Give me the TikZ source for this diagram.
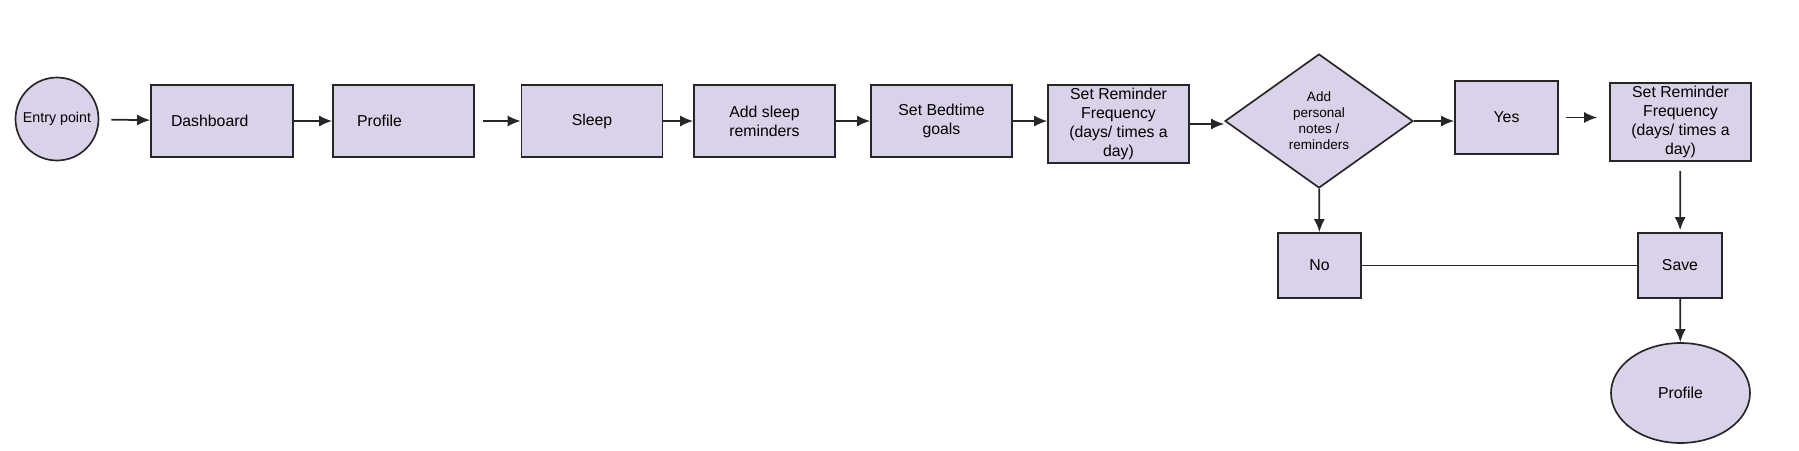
\documentclass[tikz,border=0pt]{standalone}
\usepackage{fontspec}
\setmainfont{Liberation Sans}
\usepackage{xcolor}
\usepackage{tikz}
\usetikzlibrary{arrows.meta}
\usetikzlibrary{shapes}
\usetikzlibrary{shapes.geometric}
\definecolor{lilac}{HTML}{D9D2E9}
\definecolor{edge}{HTML}{262626}

\begin{document}
\begin{tikzpicture}[x=0.02cm, y=-0.02cm, line width=1pt,
  shp/.style={draw=edge, fill=lilac, line width=0.95pt, font=\fontsize{9}{10.8}\selectfont},
  box/.style={shp, rectangle, minimum width=2.82cm, minimum height=1.44cm, align=center, inner sep=0pt},
  decision/.style={shp, diamond, minimum width=3.76cm, minimum height=2.68cm, inner sep=0pt, align=center, font=\fontsize{7.7}{9.1}\selectfont},
  terminal/.style={shp, ellipse, inner sep=0pt},
  flow/.style={-{Latex[length=0.26cm, width=0.22cm]}, draw=edge}]
 \useasboundingbox (0,0) rectangle (1799,450);
 \node [shp, circle, inner sep=0pt, minimum size=1.66cm, font=\fontsize{8.1}{9.7}\selectfont] (E) at (57, 119) {Entry point};
 \node [box, text width=2.04cm, inner xsep=0.4cm, align=left] (D) at (222, 121) {Dashboard};
 \node [box, text width=1.86cm, inner xsep=0.48cm, align=left] (P) at (403.5, 121) {Profile\\[2pt]};
 \node [box] (S) at (592, 121) {Sleep};
 \node [box] (A) at (764.5, 121) {Add sleep\\reminders};
 \node [box] (B) at (941.5, 121) {Set Bedtime\\goals};
 \node [box, minimum height=1.56cm] (R) at (1118.5, 124) {Set Reminder\\Frequency\\(days/ times a\\day)};
 \node [decision] (Q) at (1319, 121) {Add\\personal\\notes /\\reminders};
 \node [box, minimum width=2.06cm, minimum height=1.46cm] (Y) at (1506.5, 117.5) {Yes};
 \node [box, minimum height=1.56cm] (F) at (1680.5, 122) {Set Reminder\\Frequency\\(days/ times a\\day)};
 \node [box, minimum width=1.66cm, minimum height=1.3cm] (N) at (1319.5, 265.5) {No};
 \node [box, minimum width=1.68cm, minimum height=1.3cm] (V) at (1680, 265.5) {Save};
 \node [terminal, minimum width=2.78cm, minimum height=2cm] (O) at (1680.5, 393) {Profile};
 \draw [flow, shorten <=0.24cm] (E) to (D);
 \draw [flow] (D) to (P);
 \draw [flow, shorten <=0.16cm] (P) to (S);
 \draw [flow] (S) to (A);
 \draw [flow] (A) to (B);
 \draw [flow] (B) to (B -| R.west);
 \draw [flow] (R) to (R -| Q.west);
 \draw [flow] (Q) to (Q -| Y.west);
 \draw [flow, shorten <=0.14cm, shorten >=0.24cm] (Y) to (Y -| F.west);
 \draw [flow, shorten <=0.18cm, shorten >=0.04cm] (F) to (V);
 \draw [flow] (Q) to (N);
 \draw [draw=edge] (N) to (V);
 \draw [flow] (V) to (O);
\end{tikzpicture}
\end{document}
